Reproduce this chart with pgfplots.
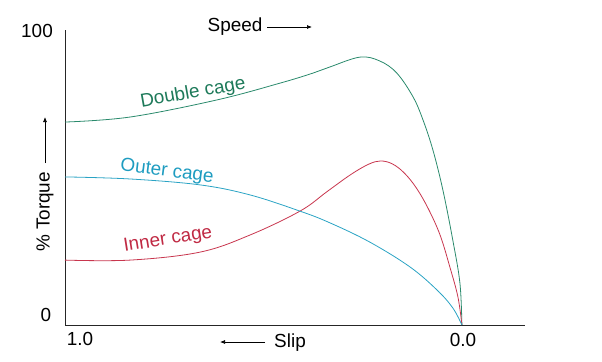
\documentclass[border=0pt]{standalone}
\usepackage{fontspec}
\setmainfont{Liberation Sans}
\usepackage{pgfplots}
\pgfplotsset{compat=1.18}
\usetikzlibrary{arrows.meta}
\definecolor{dgreen}{HTML}{2A8A6C}
\definecolor{dgreentxt}{HTML}{1E7A5A}
\definecolor{dblue}{HTML}{2AA3C4}
\definecolor{dbluetxt}{HTML}{1E9CC0}
\definecolor{dred}{HTML}{C8364E}
\definecolor{dredtxt}{HTML}{C02A44}
\begin{document}
\begin{tikzpicture}[x=1bp,y=1bp]
\path[use as bounding box] (0,0) rectangle (602,361);
\begin{axis}[at={(65bp,36bp)}, anchor=south west, scale only axis,
  width=460bp, height=295bp, xmin=0, xmax=1.159, ymin=0, ymax=100,
  axis lines*=left, xtick=\empty, ytick=\empty,
  axis line style={line width=0.9bp, black!85}, clip=false]
\addplot[dgreen, line width=0.8bp, smooth, tension=0.6] coordinates {
(0,68.8) (0.164,70.5) (0.383,76.3) (0.542,82.0) (0.625,85.4) (0.668,87.5)
(0.743,90.8) (0.793,89.5) (0.836,85.4) (0.877,77.3) (0.902,69.5) (0.927,59.3)
(0.952,45.8) (0.977,28.8) (0.995,14.2) (1.0,0)};
\addplot[dred, line width=0.8bp, smooth, tension=0.6] coordinates {
(0,22.0) (0.164,22.0) (0.340,24.7) (0.466,30.5) (0.592,38.6) (0.660,45.2)
(0.720,51.0) (0.765,54.5) (0.795,55.6) (0.825,54.6) (0.855,51.5) (0.885,46.5)
(0.915,39.5) (0.945,30.5) (0.970,19.5) (0.990,9.5) (1.0,0)};
\addplot[dblue, line width=0.8bp, smooth, tension=0.6] coordinates {
(0,50.2) (0.164,49.5) (0.340,47.5) (0.466,44.1) (0.592,38.6) (0.668,34.6)
(0.768,28.1) (0.869,19.7) (0.937,11.9) (0.977,5.8) (1.0,0)};
\end{axis}
\begin{scope}[font=\fontsize{19}{22}\selectfont]
\node at (37,330) {100};
\node at (46,46) {0};
\node at (80,22) {1.0};
\node at (463,21) {0.0};
\node at (235,334) {Speed};
\node at (290,18) {Slip};
\node[rotate=90] at (45,149) {\% Torque};
\node[rotate=10, text=dgreentxt] at (193,268) {Double cage};
\node[rotate=-7, text=dbluetxt] at (167,189) {Outer cage};
\node[rotate=9, text=dredtxt] at (168,121) {Inner cage};
\end{scope}
\draw[line width=0.7bp, -{Latex[length=5bp,width=4bp]}] (267,334) -- (312,334);
\draw[line width=0.7bp, -{Latex[length=5bp,width=4bp]}] (265,19) -- (220,19);
\draw[line width=0.7bp, -{Latex[length=5bp,width=4bp]}] (45,198) -- (45,244);
\end{tikzpicture}
\end{document}
